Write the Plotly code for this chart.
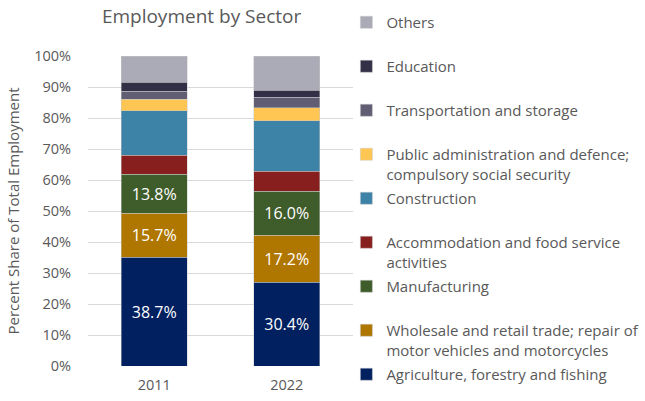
import plotly.graph_objects as go

years = ["2011", "2022"]

sectors = [
    "Agriculture, forestry and fishing",
    "Wholesale and retail trade; repair of<br>motor vehicles and motorcycles",
    "Manufacturing",
    "Accommodation and food service<br>activities",
    "Construction",
    "Public administration and defence;<br>compulsory social security",
    "Transportation and storage",
    "Education",
    "Others",
]

agri = [38.7, 30.4]
wholesale = [15.7, 17.2]
manuf = [13.8, 16.0]
accom = [6.7, 7.3]
construction = [16.0, 18.4]
public = [4.1, 4.7]
transport = [2.8, 3.8]
education = [3.1, 2.6]
others = [9.4, 12.4]

values = [agri, wholesale, manuf, accom, construction, public, transport, education, others]
labelled = [True, True, True, False, False, False, False, False, False]

colors = ["#002060", "#AF7600", "#3F5C2B", "#861F1D", "#3D82A7",
          "#FFC653", "#615D72", "#332F47", "#ABAAB7"]

fig = go.Figure()
n = len(sectors)
for i, (name, vals, lab, col) in enumerate(zip(sectors, values, labelled, colors)):
    # pad single-line entries so every legend entry has the same height
    display = name if ("<br>" in name or i == 0) else name + "<br> "
    fig.add_trace(go.Bar(
        x=years, y=vals, name=display, legendgroup=f"g{i}",
        legendrank=n - i,
        marker=dict(color=col, line=dict(color="rgba(200,200,200,0.8)", width=0.6)),
        text=[f"{v:.1f}%" for v in vals] if lab else None,
        textposition="inside" if lab else "none",
        insidetextanchor="middle",
        textfont=dict(color="white", size=16),
        hoverinfo="x+y+name",
    ))

font_family = "Open Sans, Noto Sans, sans-serif"
fig.update_layout(
    width=645, height=401,
    barmode="stack", barnorm="percent", bargap=0.5,
    margin=dict(l=88, r=292, t=56, b=35, autoexpand=False),
    plot_bgcolor="white", paper_bgcolor="white",
    font=dict(family=font_family, size=14, color="#595959"),
    title=dict(text="Employment by Sector", x=0.3125, xanchor="center",
               y=0.96, yanchor="middle", yref="container",
               font=dict(size=19, color="#595959")),
    legend=dict(x=0.975, xanchor="left", xref="paper",
                y=0.985, yanchor="top", yref="container",
                maxheight=600,
                traceorder="grouped", tracegroupgap=2,
                valign="top", font=dict(size=15, color="#595959"),
                bgcolor="rgba(0,0,0,0)"),
    showlegend=True,
)
fig.update_yaxes(range=[0, 100], dtick=10, ticksuffix="%", showgrid=True,
                 gridcolor="#D9D9D9", gridwidth=1, zeroline=False,
                 showline=False, ticklabelstandoff=16,
                 tickfont=dict(size=14.5, color="#595959"),
                 title=dict(text="Percent Share of Total Employment",
                            font=dict(size=15, color="#595959"), standoff=10))
fig.update_xaxes(showline=False, ticklabelstandoff=8,
                 tickfont=dict(size=14.5, color="#595959"))

fig.write_html("out.html",
               config={"displayModeBar": False},
               post_script="document.body.style.margin='0px';document.body.style.overflow='hidden';")
